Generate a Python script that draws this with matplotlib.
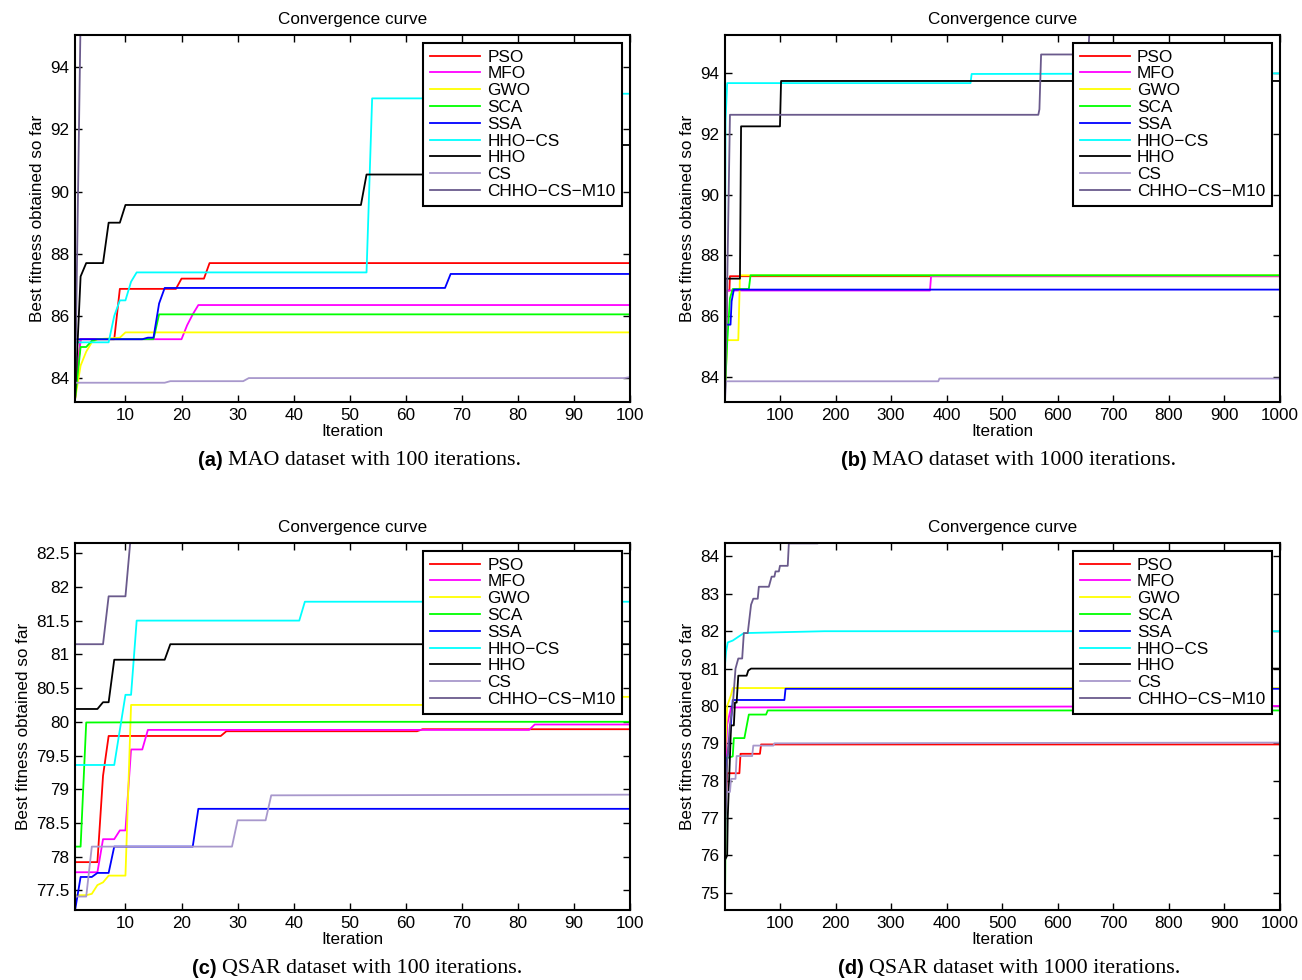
import numpy as np
import matplotlib
matplotlib.use('Agg')
import matplotlib.pyplot as plt

plt.rcParams['font.family'] = ['Liberation Sans', 'DejaVu Sans']

#%% data: (iteration, best fitness) vertices
names = ['PSO', 'MFO', 'GWO', 'SCA', 'SSA', 'HHO\u2212CS', 'HHO', 'CS', 'CHHO\u2212CS\u2212M10']
colors = ['#ff0000', '#ff00ff', '#ffff00', '#00ff00', '#0000ff',
          '#00ffff', '#000000', '#a898cc', '#6a5a8c']

# (a) MAO, 100 iterations
a_pso = [(1, 83.3), (2, 85.25), (8, 85.25), (9, 86.87), (19, 86.87), (20, 87.2),
         (24, 87.2), (25, 87.7), (100, 87.7)]
a_mfo = [(1, 83.3), (2, 85.25), (20, 85.25), (21, 85.7), (22, 86.05), (23, 86.35),
         (100, 86.35)]
a_gwo = [(1, 83.3), (2, 84.4), (3, 84.85), (4, 85.15), (5, 85.25), (9, 85.3),
         (10, 85.47), (100, 85.47)]
a_sca = [(1, 83.3), (2, 85.0), (3, 85.0), (4, 85.2), (5, 85.25), (15, 85.25),
         (16, 86.05), (100, 86.05)]
a_ssa = [(1, 85.25), (13, 85.25), (14, 85.3), (15, 85.3), (16, 86.4), (17, 86.9),
         (67, 86.9), (68, 87.35), (100, 87.35)]
a_hhocs = [(1, 85.15), (7, 85.15), (8, 86.0), (9, 86.5), (10, 86.5), (11, 87.1),
           (12, 87.4), (53, 87.4), (54, 93.0), (85, 93.0), (86, 93.15), (100, 93.15)]
a_hho = [(1, 83.3), (2, 87.27), (3, 87.7), (6, 87.7), (7, 89.0), (9, 89.0),
         (10, 89.57), (52, 89.57), (53, 90.55), (75, 90.55), (76, 91.5), (100, 91.5)]
a_cs = [(1, 83.85), (17, 83.85), (18, 83.9), (31, 83.9), (32, 84.0), (99, 84.0),
        (100, 84.03)]
a_chho = [(1, 83.3), (2, 95.6), (100, 95.6)]

# (b) MAO, 1000 iterations
b_pso = [(1, 84.0), (5, 86.85), (9, 86.85), (10, 87.32), (1000, 87.32)]
b_mfo = [(1, 83.5), (5, 86.85), (370, 86.85), (372, 87.32), (1000, 87.32)]
b_gwo = [(1, 83.5), (5, 85.22), (25, 85.22), (28, 87.35), (1000, 87.35)]
b_sca = [(1, 83.5), (5, 85.13), (10, 86.6), (15, 86.9), (44, 86.9), (47, 87.35),
         (1000, 87.35)]
b_ssa = [(1, 85.0), (3, 85.73), (11, 85.73), (13, 86.5), (17, 86.88), (1000, 86.88)]
b_hhocs = [(1, 87.0), (2, 92.4), (5, 93.66), (443, 93.66), (445, 93.96),
           (1000, 93.98)]
b_hho = [(1, 86.4), (2, 87.24), (28, 87.24), (30, 92.24), (100, 92.24),
         (102, 93.73), (1000, 93.73)]
b_cs = [(1, 83.2), (3, 83.87), (385, 83.87), (387, 83.96), (999, 83.96),
        (1000, 84.0)]
b_chho = [(1, 83.2), (5, 87.0), (10, 92.62), (565, 92.62), (567, 92.8),
          (570, 94.6), (655, 94.6), (657, 95.4), (1000, 95.4)]

# (c) QSAR, 100 iterations
c_pso = [(1, 77.92), (5, 77.92), (6, 79.2), (7, 79.79), (27, 79.79), (28, 79.86),
         (62, 79.86), (63, 79.89), (100, 79.89)]
c_mfo = [(1, 77.77), (5, 77.77), (6, 78.26), (8, 78.26), (9, 78.39), (10, 78.39),
         (11, 79.59), (13, 79.59), (14, 79.88), (82, 79.88), (83, 79.96),
         (100, 79.96)]
c_gwo = [(1, 77.43), (3, 77.43), (4, 77.45), (5, 77.58), (6, 77.62), (7, 77.72),
         (10, 77.72), (11, 80.25), (80, 80.25), (81, 80.37), (100, 80.37)]
c_sca = [(1, 78.15), (2, 78.15), (3, 79.99), (50, 80.0), (100, 80.0)]
c_ssa = [(1, 77.2), (2, 77.7), (4, 77.7), (5, 77.76), (7, 77.76), (8, 78.15),
         (22, 78.15), (23, 78.71), (100, 78.71)]
c_hhocs = [(1, 79.36), (8, 79.36), (10, 80.4), (11, 80.4), (12, 81.5), (41, 81.5),
           (42, 81.78), (100, 81.78)]
c_hho = [(1, 80.19), (5, 80.19), (6, 80.29), (7, 80.29), (8, 80.92), (17, 80.92),
         (18, 81.15), (100, 81.15)]
c_cs = [(1, 77.41), (3, 77.41), (4, 78.15), (29, 78.15), (30, 78.54), (35, 78.54),
        (36, 78.91), (100, 78.92)]
c_chho = [(1, 81.15), (6, 81.15), (7, 81.86), (10, 81.86), (11, 82.8), (100, 82.8)]

# (d) QSAR, 1000 iterations
d_pso = [(1, 77.0), (5, 78.2), (27, 78.2), (29, 78.72), (64, 78.72), (66, 78.97),
         (1000, 78.97)]
d_mfo = [(1, 78.0), (5, 79.5), (12, 79.96), (1000, 80.0)]
d_gwo = [(1, 78.6), (5, 80.0), (12, 80.3), (15, 80.48), (1000, 80.48)]
d_sca = [(1, 74.5), (3, 78.6), (15, 78.65), (17, 79.14), (36, 79.14), (38, 79.3),
         (44, 79.77), (75, 79.77), (78, 79.88), (1000, 79.88)]
d_ssa = [(1, 78.0), (3, 78.33), (10, 79.2), (15, 80.16), (108, 80.16),
         (110, 80.46), (1000, 80.46)]
d_hhocs = [(1, 81.1), (3, 81.45), (6, 81.7), (15, 81.75), (35, 81.95),
           (180, 82.0), (1000, 82.0)]
d_hho = [(1, 75.88), (5, 76.0), (6, 77.0), (12, 79.48), (17, 79.48), (19, 80.09),
         (22, 80.09), (25, 80.81), (40, 80.81), (43, 80.95), (48, 81.0),
         (1000, 81.0)]
d_cs = [(1, 77.7), (10, 77.7), (12, 78.05), (20, 78.05), (22, 78.66), (50, 78.66),
        (52, 78.94), (88, 78.94), (90, 79.0), (1000, 79.02)]
d_chho = [(1, 76.2), (5, 78.5), (10, 79.5), (15, 80.0), (20, 81.0), (25, 81.27),
          (32, 81.27), (35, 81.95), (42, 81.95), (48, 82.71), (52, 82.87),
          (60, 82.87), (62, 83.19), (80, 83.19), (85, 83.46), (90, 83.46),
          (92, 83.6), (98, 83.6), (100, 83.75), (114, 83.75), (116, 84.35),
          (168, 84.35), (170, 84.6), (1000, 84.6)]

a_series = [a_pso, a_mfo, a_gwo, a_sca, a_ssa, a_hhocs, a_hho, a_cs, a_chho]
b_series = [b_pso, b_mfo, b_gwo, b_sca, b_ssa, b_hhocs, b_hho, b_cs, b_chho]
c_series = [c_pso, c_mfo, c_gwo, c_sca, c_ssa, c_hhocs, c_hho, c_cs, c_chho]
d_series = [d_pso, d_mfo, d_gwo, d_sca, d_ssa, d_hhocs, d_hho, d_cs, d_chho]

a_yticks = [84, 86, 88, 90, 92, 94]
c_yticks = [77.5, 78, 78.5, 79, 79.5, 80, 80.5, 81, 81.5, 82, 82.5]
d_yticks = [75, 76, 77, 78, 79, 80, 81, 82, 83, 84]

#%%
def draw_panel(ax, series, xmax, xticks, ylim, yticks):
    for s, name, col in zip(series, names, colors):
        xy = np.array(s)
        ax.plot(xy[:, 0], xy[:, 1], color=col, lw=1.3, label=name)
    ax.set_xlim(1, xmax)
    ax.set_ylim(*ylim)
    ax.set_xticks(xticks)
    ax.set_yticks(yticks)
    ax.set_yticklabels(['%g' % v for v in yticks])
    ax.tick_params(direction='in', top=True, right=True, length=5,
                   width=1, labelsize=12.3, pad=4)
    for sp in ax.spines.values():
        sp.set_linewidth(1.5)
    ax.set_title('Convergence curve', fontsize=12.3, pad=8)
    ax.set_xlabel('Iteration', fontsize=12.3, labelpad=1)
    ax.set_ylabel('Best fitness obtained so far', fontsize=12.3, labelpad=4)
    leg = ax.legend(loc='upper right', fontsize=12.4, handlelength=2.9,
                    handletextpad=0.4, labelspacing=0.1, borderpad=0.4,
                    borderaxespad=0.45, fancybox=False, framealpha=1)
    leg.get_frame().set_edgecolor('black')
    leg.get_frame().set_linewidth(1.5)


fig = plt.figure(figsize=(13.02, 9.8), dpi=100)
ax_a = fig.add_axes([0.0576, 0.5898, 0.4263, 0.3745])
ax_b = fig.add_axes([0.5568, 0.5898, 0.4263, 0.3745])
ax_c = fig.add_axes([0.0576, 0.0714, 0.4263, 0.3745])
ax_d = fig.add_axes([0.5568, 0.0714, 0.4263, 0.3745])

draw_panel(ax_a, a_series, 100, range(10, 101, 10), (83.23, 95.04), a_yticks)
draw_panel(ax_b, b_series, 1000, range(100, 1001, 100), (83.19, 95.24), a_yticks)
draw_panel(ax_c, c_series, 100, range(10, 101, 10), (77.21, 82.65), c_yticks)
draw_panel(ax_d, d_series, 1000, range(100, 1001, 100), (74.54, 84.36), d_yticks)

# captions: bold label + serif text
caps = [('(a)', 'MAO dataset with 100 iterations.', 223, 460),
        ('(b)', 'MAO dataset with 1000 iterations.', 867, 460),
        ('(c)', 'QSAR dataset with 100 iterations.', 217, 968),
        ('(d)', 'QSAR dataset with 1000 iterations.', 864, 968)]
W, H = 1302, 980
for lab, txt, xp, yp in caps:
    fig.text(xp / W, 1 - yp / H, lab, ha='right', va='center',
             fontsize=14.5, fontweight='bold')
    fig.text((xp + 5) / W, 1 - yp / H, txt, ha='left', va='center',
             fontsize=15.8, family=['Liberation Serif', 'DejaVu Serif'])

fig.savefig('out.png', dpi=100)
